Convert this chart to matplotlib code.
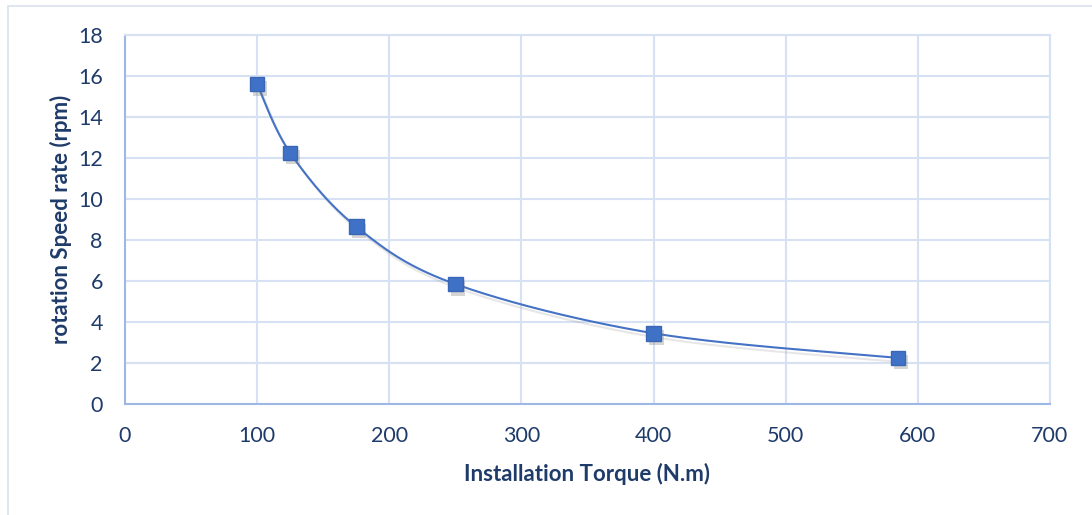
import matplotlib
matplotlib.use("Agg")
import matplotlib.pyplot as plt
import matplotlib.patheffects as pe
from matplotlib.patches import Rectangle
import numpy as np

plt.rcParams['font.family'] = ['Lato', 'DejaVu Sans']

# installation torque vs rotation speed
torque = [100, 125, 175, 250, 400, 585]
speed = [15.6, 12.25, 8.65, 5.85, 3.45, 2.25]

x_ticks = [0, 100, 200, 300, 400, 500, 600, 700]
y_ticks = [0, 2, 4, 6, 8, 10, 12, 14, 16, 18]

line_col = '#4472C4'
text_col = '#1F3B6A'
grid_col = '#D6E2F4'
spine_col = '#9DB8E4'


def smooth(xs, ys, n=40):
    # excel-style smoothed line: cubic bezier through the points
    xs = np.asarray(xs, float)
    ys = np.asarray(ys, float)
    px, py = [], []
    for i in range(len(xs) - 1):
        x0, y0 = (xs[i - 1], ys[i - 1]) if i > 0 else (xs[i], ys[i])
        x1, y1 = xs[i], ys[i]
        x2, y2 = xs[i + 1], ys[i + 1]
        x3, y3 = (xs[i + 2], ys[i + 2]) if i + 2 < len(xs) else (x2, y2)
        c1x, c1y = x1 + (x2 - x0) / 6, y1 + (y2 - y0) / 6
        c2x, c2y = x2 - (x3 - x1) / 6, y2 - (y3 - y1) / 6
        t = np.linspace(0, 1, n)
        px.append((1 - t)**3 * x1 + 3 * (1 - t)**2 * t * c1x + 3 * (1 - t) * t**2 * c2x + t**3 * x2)
        py.append((1 - t)**3 * y1 + 3 * (1 - t)**2 * t * c1y + 3 * (1 - t) * t**2 * c2y + t**3 * y2)
    return np.concatenate(px), np.concatenate(py)


fig = plt.figure(figsize=(10.92, 5.15), dpi=100)
ax = fig.add_axes([125 / 1092, 1 - 404 / 515, 925 / 1092, 369 / 515])

# outer chart frame
fig.patches.append(Rectangle((8 / 1092, -0.1), 1.2, 1 - 6 / 515 + 0.1,
                             transform=fig.transFigure, fill=False,
                             edgecolor='#D9E2F0', linewidth=1.2))

sx, sy = smooth(torque, speed)
shadow = [pe.SimpleLineShadow(offset=(2, -3), shadow_color='#888888', alpha=0.2), pe.Normal()]
ax.plot(sx, sy, color=line_col, linewidth=1.5, path_effects=shadow, zorder=3)
ax.plot(torque, speed, linestyle='none', marker='s', markersize=10.5,
        color='#3F72C6', markeredgecolor='#3A67B5', zorder=4,
        path_effects=[pe.SimplePatchShadow(offset=(2, -3), shadow_rgbFace='#777777', alpha=0.3), pe.Normal()])

ax.set_xlim(0, 700)
ax.set_ylim(0, 18)
ax.set_xticks(x_ticks)
ax.set_yticks(y_ticks)
ax.grid(True, color=grid_col, linewidth=1.5)
ax.set_axisbelow(True)
ax.tick_params(length=0, labelsize=15.5, labelcolor=text_col)
ax.tick_params(axis='x', pad=16)
ax.tick_params(axis='y', pad=16)
for s in ax.spines.values():
    s.set_color(grid_col)
    s.set_linewidth(1.5)
for s in ('left', 'bottom'):
    ax.spines[s].set_color(spine_col)

ax.set_xlabel('Installation Torque (N.m)', fontsize=16, fontweight='bold', color=text_col, labelpad=12)
ax.set_ylabel('rotation Speed rate (rpm)', fontsize=16, fontweight='bold', color=text_col, labelpad=4)

fig.savefig('out.png', dpi=100)
